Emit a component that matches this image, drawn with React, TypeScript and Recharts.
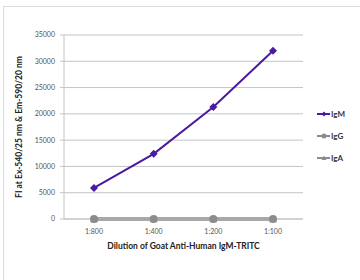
import { LineChart, Line, XAxis, YAxis, CartesianGrid, Legend } from "recharts";

const dilutions = ["1:800", "1:400", "1:200", "1:100"];
const igm = [5900, 12400, 21300, 32000];
const igg = [0, 0, 0, 0];
const iga = [0, 0, 0, 0];
const yTicks = [0, 5000, 10000, 15000, 20000, 25000, 30000, 35000];

const PURPLE = "#4a1aa0";
const GRAY = "#8c8c8c";
const FONT = "Lato, 'Open Sans', sans-serif";

const data = dilutions.map((d, i) => ({
  name: d,
  IgM: igm[i],
  IgG: igg[i],
  IgA: iga[i],
}));

const Diamond = ({ cx, cy, fill, size = 3.5 }: any) =>
  cx == null ? null : (
    <polygon
      points={`${cx},${cy - size} ${cx + size},${cy} ${cx},${cy + size} ${cx - size},${cy}`}
      fill={fill}
    />
  );

const Triangle = ({ cx, cy, fill, size = 4 }: any) =>
  cx == null ? null : (
    <polygon
      points={`${cx},${cy - size} ${cx + size},${cy + size * 0.8} ${cx - size},${cy + size * 0.8}`}
      fill={fill}
    />
  );

const Circle = ({ cx, cy, fill, r = 4 }: any) =>
  cx == null ? null : <circle cx={cx} cy={cy} r={r} fill={fill} />;

const legendItems = [
  { name: "IgM", color: PURPLE, width: 2, marker: "diamond" },
  { name: "IgG", color: GRAY, width: 2, marker: "circle" },
  { name: "IgA", color: GRAY, width: 2, marker: "triangle" },
];

const LegendBox = () => (
  <div style={{ fontFamily: FONT }}>
    {legendItems.map((it) => (
      <div
        key={it.name}
        style={{ display: "flex", alignItems: "center", height: 22 }}
      >
        <svg width={13} height={8} style={{ marginRight: 1 }}>
          <line x1={0} y1={4} x2={13} y2={4} stroke={it.color} strokeWidth={it.width} />
          {it.marker === "diamond" && <Diamond cx={7} cy={4} fill={it.color} size={2.5} />}
          {it.marker === "circle" && <Circle cx={7} cy={4} fill={it.color} r={2.5} />}
          {it.marker === "triangle" && <Triangle cx={7} cy={4} fill={it.color} size={2.5} />}
        </svg>
        <span style={{ fontSize: 8, fontWeight: 700, color: "#333" }}>{it.name}</span>
      </div>
    ))}
  </div>
);

// rotated axis title, centred on the plot height
const YLabel = ({ viewBox }: any) => {
  const cx = viewBox.x + 20;
  const cy = viewBox.y + viewBox.height / 2;
  return (
    <text
      x={cx}
      y={cy}
      transform={`rotate(-90 ${cx} ${cy})`}
      textAnchor="middle"
      dominantBaseline="middle"
      fill="#222"
      style={{ fontSize: 8.5, fontWeight: 700, fontFamily: FONT }}
    >
      FI at Ex-540/25 nm &amp; Em-590/20 nm
    </text>
  );
};

const XLabel = ({ viewBox }: any) => {
  const cx = viewBox.x + viewBox.width / 2;
  return (
    <text
      x={cx}
      y={viewBox.y + 28}
      textAnchor="middle"
      dominantBaseline="middle"
      fill="#222"
      style={{ fontSize: 8.5, fontWeight: 700, fontFamily: FONT }}
    >
      Dilution of Goat Anti-Human IgM-TRITC
    </text>
  );
};

export default function App() {
  return (
    <div style={{ position: "absolute", left: 0, top: 0, width: 360, height: 280, background: "#fff" }}>
      <div
        style={{
          position: "absolute",
          left: 3,
          top: 6,
          width: 360,
          height: 280,
          borderLeft: "1px solid #dcdcdc",
          borderTop: "1px solid #dcdcdc",
        }}
      />
      <LineChart
        width={360}
        height={280}
        data={data}
        margin={{ top: 35, right: 57, bottom: 31, left: 0 }}
        style={{ position: "absolute", left: 0, top: 0 }}
      >
        <CartesianGrid vertical={false} stroke="#c4c4c4" strokeWidth={1} />
        <XAxis
          dataKey="name"
          height={30}
          padding={{ left: 30, right: 30 }}
          tickLine={false}
          tickSize={4}
          tickMargin={6}
          axisLine={{ stroke: "#c4c4c4" }}
          tick={{ fontSize: 7, fill: "#555", fontFamily: FONT }}
          label={<XLabel />}
        />
        <YAxis
          width={64}
          domain={[0, 35000]}
          ticks={yTicks}
          interval={0}
          tickSize={4}
          tickMargin={5}
          tickLine={{ stroke: "#c4c4c4" }}
          axisLine={{ stroke: "#c4c4c4" }}
          tick={{ fontSize: 7, fill: "#555", fontFamily: FONT }}
          label={<YLabel />}
        />
        <Legend
          layout="vertical"
          align="center"
          verticalAlign="middle"
          content={<LegendBox />}
          wrapperStyle={{ left: 317, top: 103, width: 43 }}
        />
        <Line
          dataKey="IgA"
          stroke={GRAY}
          strokeWidth={3}
          dot={<Triangle fill={GRAY} />}
          isAnimationActive={false}
        />
        <Line
          dataKey="IgG"
          stroke={GRAY}
          strokeWidth={3}
          dot={<Circle fill={GRAY} r={4} />}
          isAnimationActive={false}
        />
        <Line
          dataKey="IgM"
          stroke={PURPLE}
          strokeWidth={2}
          dot={<Diamond fill={PURPLE} size={4} />}
          isAnimationActive={false}
        />
      </LineChart>
    </div>
  );
}
